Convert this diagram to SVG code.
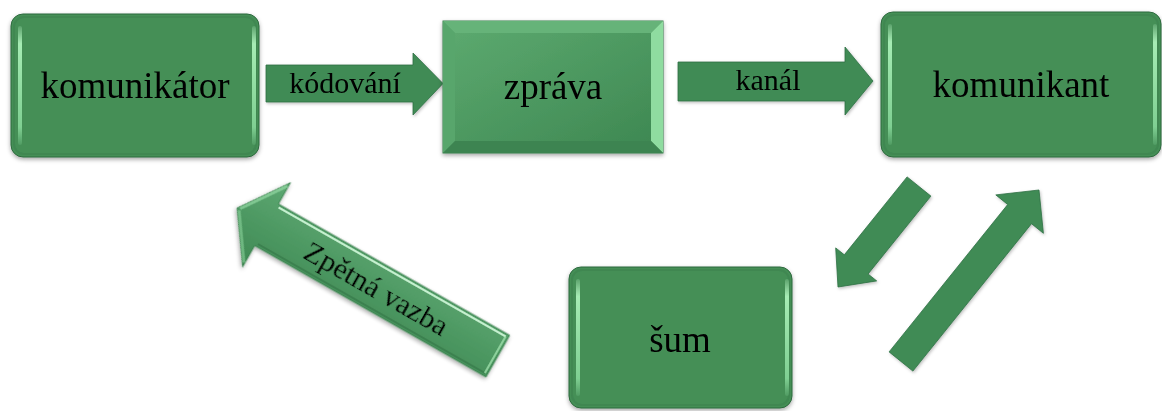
<svg xmlns="http://www.w3.org/2000/svg" width="1162" height="411" viewBox="0 0 1162 411">
  <defs>
    <filter id="shadow" x="-10%" y="-10%" width="120%" height="130%">
      <feDropShadow dx="0" dy="2" stdDeviation="2" flood-color="#000" flood-opacity="0.35"/>
    </filter>
    <filter id="softShadow" x="-10%" y="-10%" width="120%" height="130%">
      <feDropShadow dx="1" dy="1.5" stdDeviation="1.5" flood-color="#000" flood-opacity="0.25"/>
    </filter>
    <linearGradient id="edgeGlow" x1="0" y1="0" x2="0" y2="1">
      <stop offset="0" stop-color="#b4f3c0" stop-opacity="0.2"/>
      <stop offset="0.15" stop-color="#a6ecb4"/>
      <stop offset="0.85" stop-color="#7fcf92"/>
      <stop offset="1" stop-color="#7fcf92" stop-opacity="0.2"/>
    </linearGradient>
    <linearGradient id="bevelFace" x1="0" y1="0" x2="1" y2="1">
      <stop offset="0" stop-color="#5ba86e"/>
      <stop offset="1" stop-color="#3f8953"/>
    </linearGradient>
    <linearGradient id="feedbackFill" x1="0" y1="0" x2="0" y2="1">
      <stop offset="0" stop-color="#5ea973"/>
      <stop offset="1" stop-color="#3e8953"/>
    </linearGradient>
    <style>
      .box { fill: #458f57; stroke: #2e6a3f; stroke-width: 1; }
      .glow { fill: url(#edgeGlow); }
      .rim { fill: none; stroke: #3a7f4c; stroke-width: 2; opacity: 0.5; }
      .arrow { fill: #3f8b55; stroke: #2f7044; stroke-width: 0.8; }
      .big { font-family: "Liberation Serif", "Times New Roman", serif; font-size: 37px; fill: #000; text-anchor: middle; }
      .small { font-family: "Liberation Serif", "Times New Roman", serif; font-size: 30px; fill: #000; text-anchor: middle; }
    </style>
  </defs>

  <rect width="1162" height="411" fill="#ffffff"/>

  <!-- connectors -->
  <g id="connectors">
    <g id="kodovani" filter="url(#softShadow)">
      <polygon class="arrow" points="266,65 413,65 413,53 443,83.5 413,115 413,102 266,102"/>
      <text class="small" x="345" y="93">kódování</text>
    </g>
    <g id="kanal" filter="url(#softShadow)">
      <polygon class="arrow" points="678,62 845,62 845,47 873,81 845,115 845,101 678,101"/>
      <text class="small" x="768" y="90">kanál</text>
    </g>
    <g id="to-sum" filter="url(#softShadow)">
      <polygon class="arrow" points="907.1,176.9 930.9,196.1 868.1,274 876.7,280.9 838,287 835.7,247.9 844.3,254.8"/>
    </g>
    <g id="from-sum" filter="url(#softShadow)">
      <polygon class="arrow" points="889.1,351.9 912.9,371.1 1031.5,223.7 1043.4,233.3 1039,190 995.8,194.9 1007.7,204.5"/>
    </g>
    <g id="zpetna-vazba" transform="translate(237,208) rotate(29.6)" filter="url(#shadow)">
      <polygon points="0,0 34,-48.5 34,-24 300,-24 300,24 34,24 34,48.5" fill="url(#feedbackFill)" stroke="#3a7f4d" stroke-width="0.8"/>
      <!-- bevel highlights -->
      <polyline points="36,-21 297,-21" fill="none" stroke="#d8ffe0" stroke-width="2" opacity="0.85"/>
      <polyline points="3,1 33,44" fill="none" stroke="#8ad49b" stroke-width="3" opacity="0.6"/>
      <polyline points="3,-1 33,-44" fill="none" stroke="#9fe2ae" stroke-width="3" opacity="0.6"/>
      <polyline points="36,21 297,21" fill="none" stroke="#2f6f42" stroke-width="2" opacity="0.5"/>
      <polyline points="297,-21 297,21" fill="none" stroke="#a6e8b4" stroke-width="2" opacity="0.7"/>
      <text class="small" x="161" y="11">Zpětná vazba</text>
    </g>
  </g>

  <!-- komunikátor -->
  <g id="komunikator" filter="url(#shadow)">
    <rect class="box" x="11" y="14" width="248" height="143" rx="12"/>
    <rect class="rim" x="14" y="17" width="242" height="137" rx="10"/>
    <rect class="glow" x="18" y="26" width="4" height="119" rx="2"/>
    <rect class="glow" x="252" y="26" width="4" height="119" rx="2"/>
    <text class="big" x="135" y="98">komunikátor</text>
  </g>

  <!-- zpráva -->
  <g id="zprava" filter="url(#shadow)">
    <rect x="443" y="21" width="220" height="132" fill="url(#bevelFace)" stroke="#3a7c4c" stroke-width="1"/>
    <polygon points="443,21 663,21 651,33 455,33" fill="#66b379"/>
    <polygon points="443,21 455,33 455,141 443,153" fill="#58a66c"/>
    <polygon points="663,21 663,153 651,141 651,33" fill="#8fdca0"/>
    <polygon points="443,153 455,141 651,141 663,153" fill="#3d8451"/>
    <rect x="455" y="33" width="196" height="108" fill="url(#bevelFace)"/>
    <text class="big" x="553" y="99">zpráva</text>
  </g>

  <!-- komunikant -->
  <g id="komunikant" filter="url(#shadow)">
    <rect class="box" x="881" y="12" width="280" height="145" rx="12"/>
    <rect class="rim" x="884" y="15" width="274" height="139" rx="10"/>
    <rect class="glow" x="888" y="24" width="4" height="121" rx="2"/>
    <rect class="glow" x="1153" y="24" width="4" height="121" rx="2"/>
    <text class="big" x="1021" y="97">komunikant</text>
  </g>

  <!-- šum -->
  <g id="sum" filter="url(#shadow)">
    <rect class="box" x="569" y="267" width="223" height="141" rx="12"/>
    <rect class="rim" x="572" y="270" width="217" height="135" rx="10"/>
    <rect class="glow" x="576" y="279" width="4" height="117" rx="2"/>
    <rect class="glow" x="785" y="279" width="4" height="117" rx="2"/>
    <text class="big" x="680" y="352">šum</text>
  </g>
</svg>
